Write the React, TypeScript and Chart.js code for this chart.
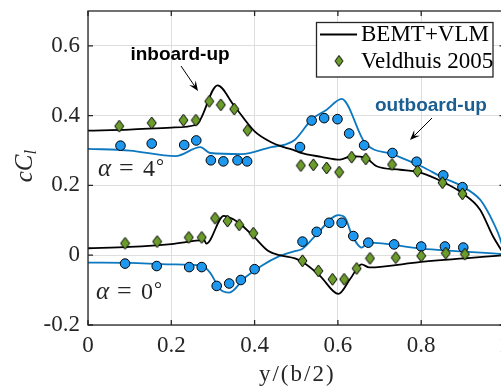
import React, { useEffect, useRef } from "react";
import { Chart, registerables } from "chart.js";

Chart.register(...registerables);

// ---- axis ticks ----
const xTickValues = [0, 0.2, 0.4, 0.6, 0.8, 1];
const yTickValues = [-0.2, 0, 0.2, 0.4, 0.6];

// ---- BEMT+VLM, inboard-up, alpha = 4 deg (black) ----
const vlmIn4X = [0, 0.1, 0.2, 0.26, 0.311, 0.35, 0.4, 0.44, 0.47, 0.497, 0.509, 0.56, 0.605, 0.633, 0.667, 0.693, 0.75, 0.8, 0.852, 0.897, 0.941, 0.972, 1.0];
const vlmIn4Y = [0.357, 0.36, 0.366, 0.374, 0.487, 0.43, 0.355, 0.324, 0.31, 0.3, 0.294, 0.282, 0.274, 0.284, 0.279, 0.255, 0.245, 0.236, 0.21, 0.179, 0.131, 0.055, 0.0];

// ---- BEMT+VLM, outboard-up, alpha = 4 deg (blue) ----
const vlmOut4X = [0, 0.1, 0.21, 0.27, 0.293, 0.369, 0.44, 0.473, 0.497, 0.537, 0.573, 0.609, 0.665, 0.733, 0.8, 0.853, 0.897, 0.941, 0.957, 0.973, 0.99, 1.0];
const vlmOut4Y = [0.305, 0.3, 0.284, 0.31, 0.293, 0.29, 0.31, 0.317, 0.331, 0.389, 0.417, 0.448, 0.322, 0.289, 0.255, 0.222, 0.198, 0.16, 0.131, 0.094, 0.046, 0.0];

// ---- BEMT+VLM, inboard-up, alpha = 0 deg (black) ----
const vlmIn0X = [0, 0.1, 0.2, 0.279, 0.284, 0.326, 0.349, 0.369, 0.4, 0.433, 0.461, 0.497, 0.517, 0.557, 0.601, 0.629, 0.657, 0.675, 0.8, 1.0];
const vlmIn0Y = [0.02, 0.024, 0.032, 0.043, 0.033, 0.113, 0.103, 0.086, 0.051, 0.012, 0.0, -0.009, -0.021, -0.059, -0.111, -0.069, -0.026, -0.035, -0.019, 0.0];

// ---- BEMT+VLM, outboard-up, alpha = 0 deg (blue) ----
const vlmOut0X = [0, 0.1, 0.2, 0.273, 0.293, 0.317, 0.339, 0.377, 0.417, 0.457, 0.497, 0.513, 0.549, 0.601, 0.617, 0.633, 0.657, 0.673, 0.8, 1.0];
const vlmOut0Y = [-0.021, -0.022, -0.026, -0.03, -0.05, -0.097, -0.107, -0.064, -0.03, -0.004, 0.012, 0.017, 0.06, 0.115, 0.108, 0.06, 0.022, 0.036, 0.019, 0.003];

// ---- Veldhuis 2005, inboard-up, alpha = 4 deg (green diamonds) ----
const expIn4X = [0.075, 0.153, 0.229, 0.259, 0.291, 0.319, 0.351, 0.383, 0.511, 0.541, 0.573, 0.603, 0.633, 0.667, 0.73, 0.791, 0.851, 0.899];
const expIn4Y = [0.37, 0.379, 0.387, 0.387, 0.441, 0.431, 0.419, 0.358, 0.257, 0.259, 0.25, 0.238, 0.281, 0.276, 0.26, 0.241, 0.208, 0.176];

// ---- Veldhuis 2005, outboard-up, alpha = 4 deg (blue circles) ----
const expOut4X = [0.078, 0.153, 0.231, 0.26, 0.295, 0.325, 0.359, 0.382, 0.509, 0.537, 0.567, 0.599, 0.627, 0.663, 0.731, 0.789, 0.853, 0.899];
const expOut4Y = [0.314, 0.32, 0.316, 0.329, 0.272, 0.269, 0.272, 0.269, 0.31, 0.386, 0.393, 0.39, 0.349, 0.315, 0.293, 0.268, 0.229, 0.195];

// ---- Veldhuis 2005, inboard-up, alpha = 0 deg (green diamonds) ----
const expIn0X = [0.089, 0.166, 0.242, 0.273, 0.305, 0.335, 0.363, 0.397, 0.515, 0.553, 0.587, 0.615, 0.645, 0.677, 0.739, 0.8, 0.859, 0.905];
const expIn0Y = [0.034, 0.039, 0.051, 0.051, 0.106, 0.098, 0.087, 0.063, -0.016, -0.045, -0.069, -0.069, -0.038, -0.009, -0.007, -0.002, 0.006, 0.003];

// ---- Veldhuis 2005, outboard-up, alpha = 0 deg (blue circles) ----
const expOut0X = [0.089, 0.165, 0.243, 0.273, 0.309, 0.339, 0.367, 0.4, 0.515, 0.549, 0.579, 0.609, 0.637, 0.673, 0.735, 0.8, 0.857, 0.901];
const expOut0Y = [-0.024, -0.031, -0.034, -0.034, -0.088, -0.081, -0.071, -0.04, 0.039, 0.067, 0.093, 0.093, 0.055, 0.036, 0.031, 0.025, 0.025, 0.022];

const legendLabels = ["BEMT+VLM", "Veldhuis 2005"];

const BLACK = "#000000";
const BLUE_LINE = "#0b78c0";
const BLUE_FILL = "#1e98ef";
const GREEN_FILL = "#6b9c2c";
const AXIS = "#262626";
const SERIF = "'Liberation Serif', 'DejaVu Serif', serif";
const SANS = "'Liberation Sans', Arial, sans-serif";

const pts = (xs: number[], ys: number[]) => xs.map((x, i) => ({ x, y: ys[i] }));

function makeDiamond(w: number, h: number) {
  const c = document.createElement("canvas");
  c.width = w + 2;
  c.height = h + 2;
  const g = c.getContext("2d")!;
  g.beginPath();
  g.moveTo(c.width / 2, 1);
  g.lineTo(c.width - 1, c.height / 2);
  g.lineTo(c.width / 2, c.height - 1);
  g.lineTo(1, c.height / 2);
  g.closePath();
  g.fillStyle = GREEN_FILL;
  g.fill();
  g.strokeStyle = "#000";
  g.lineWidth = 1;
  g.stroke();
  return c;
}

function drawArrow(ctx: CanvasRenderingContext2D, x1: number, y1: number, x2: number, y2: number) {
  const ang = Math.atan2(y2 - y1, x2 - x1);
  const hl = 10, hw = 4;
  ctx.beginPath();
  ctx.moveTo(x1, y1);
  ctx.lineTo(x2 - Math.cos(ang) * hl * 0.6, y2 - Math.sin(ang) * hl * 0.6);
  ctx.stroke();
  ctx.beginPath();
  ctx.moveTo(x2, y2);
  ctx.lineTo(x2 - Math.cos(ang) * hl - Math.sin(ang) * hw, y2 - Math.sin(ang) * hl + Math.cos(ang) * hw);
  ctx.lineTo(x2 - Math.cos(ang) * hl * 0.6, y2 - Math.sin(ang) * hl * 0.6);
  ctx.lineTo(x2 - Math.cos(ang) * hl + Math.sin(ang) * hw, y2 - Math.sin(ang) * hl - Math.cos(ang) * hw);
  ctx.closePath();
  ctx.fill();
}

const fmt = (v: number) => {
  const r = Math.round(v * 10) / 10;
  return r === 0 ? "0" : String(r);
};

export default function App() {
  const ref = useRef<HTMLCanvasElement | null>(null);

  useEffect(() => {
    if (!ref.current) return;
    const diamond = makeDiamond(9, 12);
    const legendDiamond = makeDiamond(8, 11);

    const overlay = {
      id: "overlay",
      afterDatasetsDraw(chart: any) {
        const { ctx, chartArea: a, scales } = chart;
        const xs = scales.x, ys = scales.y;
        ctx.save();
        // frame
        ctx.strokeStyle = AXIS;
        ctx.lineWidth = 1.3;
        ctx.strokeRect(a.left, a.top, a.right - a.left, a.bottom - a.top);
        ctx.beginPath();
        xTickValues.forEach((v) => {
          const p = xs.getPixelForValue(v);
          ctx.moveTo(p, a.bottom); ctx.lineTo(p, a.bottom - 5);
          ctx.moveTo(p, a.top); ctx.lineTo(p, a.top + 5);
        });
        yTickValues.forEach((v) => {
          const p = ys.getPixelForValue(v);
          ctx.moveTo(a.left, p); ctx.lineTo(a.left + 5, p);
          ctx.moveTo(a.right, p); ctx.lineTo(a.right - 5, p);
        });
        ctx.stroke();

        // y title cC_l
        ctx.fillStyle = AXIS;
        ctx.save();
        ctx.translate(24, (a.top + a.bottom) / 2 - 2);
        ctx.rotate(-Math.PI / 2);
        ctx.textBaseline = "alphabetic";
        ctx.font = `italic 25px ${SERIF}`;
        const wMain = ctx.measureText("cC").width;
        ctx.font = `italic 17px ${SERIF}`;
        const wSub = ctx.measureText("l").width;
        const x0 = -(wMain + wSub) / 2;
        ctx.font = `italic 25px ${SERIF}`;
        ctx.fillText("cC", x0, 8);
        ctx.font = `italic 17px ${SERIF}`;
        ctx.fillText("l", x0 + wMain, 12);
        ctx.restore();

        // x title
        ctx.font = `23px ${SERIF}`;
        ctx.textAlign = "center";
        ctx.textBaseline = "alphabetic";
        (ctx as any).letterSpacing = "2px";
        ctx.fillText("y/(b/2)", (a.left + a.right) / 2 + 1, 381);
        (ctx as any).letterSpacing = "0px";

        // alpha labels
        const alphaLabel = (x: number, yb: number, deg: string) => {
          ctx.textAlign = "left";
          ctx.fillStyle = AXIS;
          ctx.font = `italic 25px ${SERIF}`;
          ctx.fillText("α", x, yb);
          ctx.font = `26px ${SERIF}`;
          ctx.fillText("=", x + 21, yb);
          ctx.font = `24px ${SERIF}`;
          ctx.fillText(deg, x + 45, yb);
          ctx.font = `20px ${SERIF}`;
          ctx.fillText("°", x + 58, yb - 3);
        };
        alphaLabel(98, 176, "4");
        alphaLabel(96, 299, "0");

        // annotations
        ctx.fillStyle = "#000";
        ctx.font = `bold 19px ${SANS}`;
        ctx.textAlign = "center";
        ctx.fillText("inboard-up", 180, 60);
        ctx.strokeStyle = "#000";
        ctx.lineWidth = 1;
        drawArrow(ctx, 181, 66, 198, 91);

        ctx.fillStyle = "#1b5e91";
        ctx.textAlign = "left";
        ctx.fillText("outboard-up", 375, 111);
        ctx.fillStyle = "#000";
        drawArrow(ctx, 432, 118, 410, 140);

        // legend
        ctx.fillStyle = "#fff";
        ctx.fillRect(316.5, 22.5, 176.5, 54.5);
        ctx.strokeStyle = AXIS;
        ctx.lineWidth = 1.3;
        ctx.strokeRect(316.5, 22.5, 176.5, 54.5);
        ctx.strokeStyle = "#000";
        ctx.lineWidth = 1.8;
        ctx.beginPath();
        ctx.moveTo(320, 34.5);
        ctx.lineTo(357, 34.5);
        ctx.stroke();
        ctx.drawImage(legendDiamond, 339 - legendDiamond.width / 2, 61 - legendDiamond.height / 2);
        ctx.fillStyle = "#000";
        ctx.font = `23px ${SERIF}`;
        ctx.textAlign = "left";
        ctx.textBaseline = "middle";
        ctx.fillText(legendLabels[0], 361, 35);
        ctx.fillText(legendLabels[1], 361, 62);
        ctx.restore();
      },
    };

    const lineDs = (xs: number[], ys: number[], color: string) => ({
      type: "line",
      data: pts(xs, ys),
      borderColor: color,
      borderWidth: 1.8,
      pointRadius: 0,
      showLine: true,
      fill: false,
      cubicInterpolationMode: "monotone",
    });
    const circleDs = (xs: number[], ys: number[]) => ({
      type: "line",
      data: pts(xs, ys),
      showLine: false,
      pointStyle: "circle",
      pointRadius: 4.8,
      pointBackgroundColor: BLUE_FILL,
      pointBorderColor: "#000",
      pointBorderWidth: 1,
    });
    const diamondDs = (xs: number[], ys: number[]) => ({
      type: "line",
      data: pts(xs, ys),
      showLine: false,
      pointStyle: diamond,
      pointRadius: 6,
    });

    const chart = new Chart(ref.current, {
      type: "line",
      data: {
        datasets: [
          diamondDs(expIn4X, expIn4Y),
          diamondDs(expIn0X, expIn0Y),
          circleDs(expOut4X, expOut4Y),
          circleDs(expOut0X, expOut0Y),
          lineDs(vlmIn4X, vlmIn4Y, BLACK),
          lineDs(vlmIn0X, vlmIn0Y, BLACK),
          lineDs(vlmOut4X, vlmOut4Y, BLUE_LINE),
          lineDs(vlmOut0X, vlmOut0Y, BLUE_LINE),
        ] as any,
      },
      options: {
        responsive: false,
        animation: false,
        devicePixelRatio: 1,
        layout: { padding: { top: 11, right: 7.5, left: 0, bottom: 0 } },
        plugins: { legend: { display: false }, tooltip: { enabled: false } },
        scales: {
          x: {
            type: "linear",
            min: 0,
            max: 1,
            afterBuildTicks: (s: any) => { s.ticks = xTickValues.map((v) => ({ value: v })); },
            afterFit: (s: any) => { s.height = 64; s.paddingLeft = 0; s.paddingRight = 0; },
            ticks: { callback: (v: any) => fmt(Number(v)), font: { family: SERIF, size: 23 }, color: AXIS, padding: 7, maxRotation: 0, autoSkip: false },
            grid: { color: "#dedede", lineWidth: 1, drawTicks: false },
            border: { display: false },
          },
          y: {
            type: "linear",
            min: -0.2,
            max: 0.7,
            afterBuildTicks: (s: any) => { s.ticks = yTickValues.map((v) => ({ value: v })); },
            afterFit: (s: any) => { s.width = 88; s.paddingTop = 0; s.paddingBottom = 0; },
            ticks: { callback: (v: any) => fmt(Number(v)), font: { family: SERIF, size: 23 }, color: AXIS, padding: 8 },
            grid: { color: "#dedede", lineWidth: 1, drawTicks: false },
            border: { display: false },
          },
        },
      },
      plugins: [overlay],
    } as any);
    return () => chart.destroy();
  }, []);

  return (
    <div style={{ position: "fixed", left: 0, top: 0, width: 501, height: 389, overflow: "hidden", background: "#fff" }}>
      <canvas ref={ref} width={512} height={389} style={{ display: "block" }} />
    </div>
  );
}
